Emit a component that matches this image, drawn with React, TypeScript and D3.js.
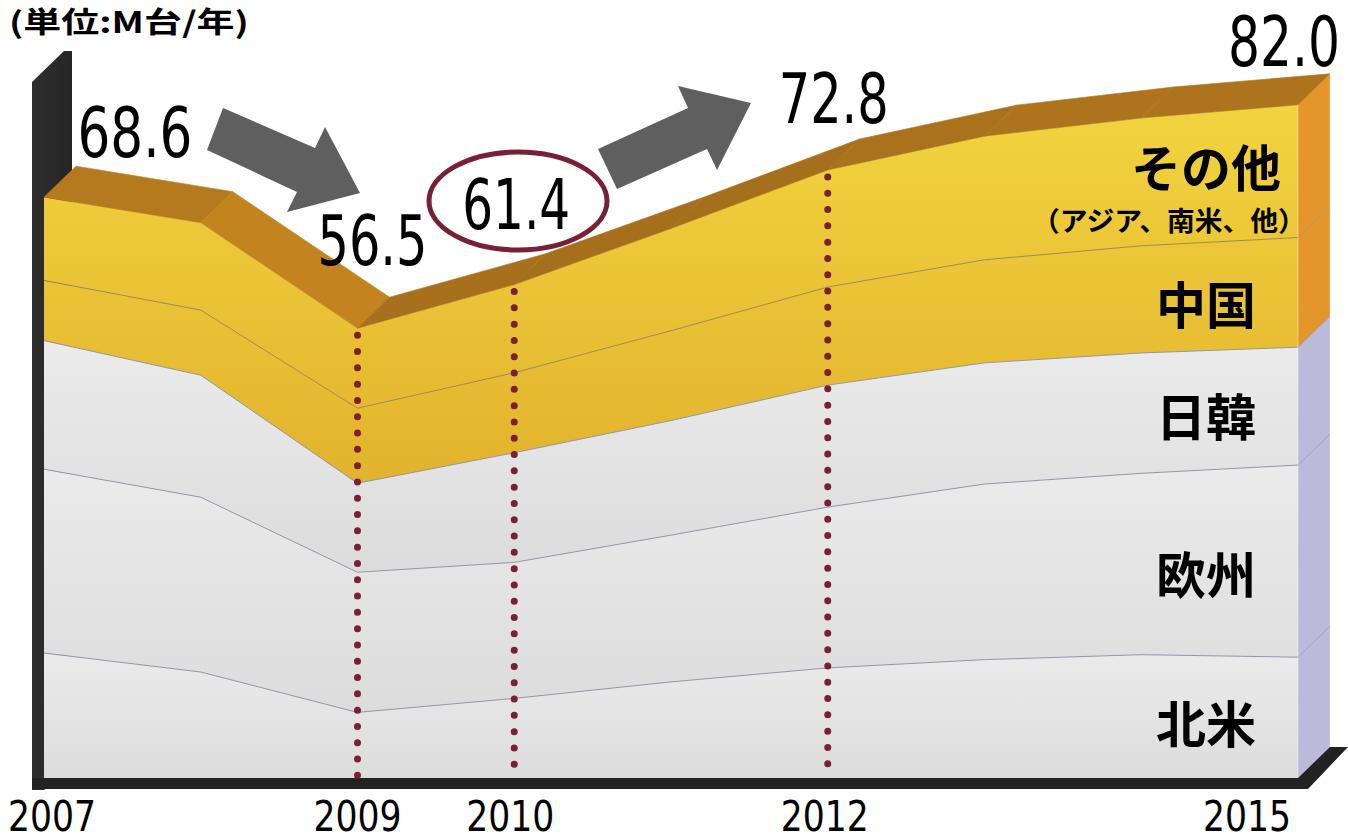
import React, { useLayoutEffect, useRef, useState } from 'react';
import * as d3 from 'd3';

// ---- data (M units / year) ----
const years = [2007, 2008, 2009, 2010, 2011, 2012, 2013, 2014, 2015];
const northAmerica = [15.4, 13.1, 8.2, 9.9, 11.9, 13.6, 14.6, 15.2, 14.9];
const europe = [22.3, 21.2, 17.0, 16.5, 17.8, 19.5, 21.3, 22.0, 23.3];
const japanKorea = [15.6, 14.8, 10.8, 13.3, 13.9, 14.8, 14.7, 14.6, 14.3];
const china = [7.3, 7.9, 9.1, 9.7, 10.9, 11.9, 12.5, 13.0, 13.3];
const others = [10.1, 10.6, 9.7, 10.7, 12.4, 14.2, 15.0, 15.5, 16.1];
const seriesKeys = ['北米', '欧州', '日韓', '中国', 'その他'];
const tickYears = [2007, 2009, 2010, 2012, 2015];
const markedYears = [2009, 2010, 2012];
const totalYears = [2007, 2009, 2010, 2012, 2015];
const totalLabels = ['68.6', '56.5', '61.4', '72.8', '82.0'];
const unitLabel = '(単位:M台/年)';
const othersSubLabel = '（アジア、南米、他）';

// ---- layout ----
const W = 1348, H = 840;
const X0 = 44, X1 = 1298, Y0 = 780, YTOP = 104;
const DX = 32, DY = -31;
const numFont = "'Liberation Sans Narrow', 'DejaVu Sans Condensed', 'Liberation Sans', sans-serif";
const jpFont = "'Noto Sans CJK JP', 'Noto Sans', sans-serif";

const table = years.map((y, i) => ({
  year: y,
  '北米': northAmerica[i],
  '欧州': europe[i],
  '日韓': japanKorea[i],
  '中国': china[i],
  'その他': others[i],
}));

const x = d3.scaleLinear().domain([2007, 2015]).range([X0, X1]);
const y = d3.scaleLinear().domain([0, 82]).range([Y0, YTOP]);

const stack = d3.stack<any>().keys(seriesKeys);
const layers = stack(table);

const isYellow = (k: string) => k === '中国' || k === 'その他';

// label layout (offsets relative to scales)
const totalLabelOffsets = [
  { dx: 91, dy: -40, w: 115 },
  { dx: 15, dy: -63, w: 110 },
  { dx: 2, dy: -56, w: 108 },
  { dx: 6, dy: -47, w: 110 },
  { dx: -14, dy: -39, w: 112 },
];
const seriesLabelBaselines: Record<string, number> = {
  '北米': 743, '欧州': 594, '日韓': 436, '中国': 324, 'その他': 187,
};
const tickLabelShift: Record<number, number> = { 2007: 8, 2009: 0, 2010: -4, 2012: -3, 2015: -51 };

function FitText(props: any) {
  const { x: px, y: py, width, children, ...rest } = props;
  const ref = useRef<SVGTextElement>(null);
  const [sx, setSx] = useState(1);
  useLayoutEffect(() => {
    if (ref.current) {
      const len = ref.current.getComputedTextLength();
      if (len > 0) setSx(width / len);
    }
  }, [width, children]);
  return (
    <text ref={ref} transform={`translate(${px},${py}) scale(${sx},1)`} x={0} y={0} {...rest}>
      {children}
    </text>
  );
}

export default function App() {
  const area = d3.area<any>()
    .x((d) => x(d.data.year))
    .y0((d) => y(d[0]))
    .y1((d) => y(d[1]))
    .curve(d3.curveLinear);
  const line = d3.line<any>()
    .x((d) => x(d.data.year))
    .y((d) => y(d[1]))
    .curve(d3.curveLinear);

  const top = layers[layers.length - 1];
  const topPts = top.map((d) => [x(d.data.year), y(d[1])] as [number, number]);

  // top band segments
  const bandColor = d3.interpolateRgb('#A56E1C', '#C4841F');
  const bandSegs = topPts.slice(0, -1).map((p, i) => {
    const q = topPts[i + 1];
    const slope = (q[1] - p[1]) / (q[0] - p[0]);
    const t = Math.max(0, Math.min(1, (slope + 0.4) / 1.1));
    const d = `M${p[0]},${p[1]}L${q[0]},${q[1]}L${q[0] + DX},${q[1] + DY}L${p[0] + DX},${p[1] + DY}Z`;
    return { d, fill: bandColor(t) };
  });

  // right side faces
  const last = table.length - 1;
  const sideFaces = layers.map((L) => {
    const k = L.key;
    const yb = y(L[last][0]);
    const yt = y(L[last][1]);
    const xf = X1, xb = X1 + DX;
    return {
      k,
      d: `M${xf},${yb}L${xf},${yt}L${xb},${yt + DY}L${xb},${yb + DY}Z`,
      line: `M${xf},${yt}L${xb},${yt + DY}`,
      fill: isYellow(k) ? '#E4962A' : '#BCB9DB',
    };
  });

  const yearIndex = (yr: number) => years.indexOf(yr);

  return (
    <svg width={W} height={H} style={{ position: 'absolute', left: 0, top: 0, background: '#fff' }}
      xmlns="http://www.w3.org/2000/svg">
      <defs>
        <linearGradient id="gYelAll" gradientUnits="userSpaceOnUse" x1="0" y1="100" x2="0" y2="490">
          <stop offset="0" stopColor="#F2D43F" />
          <stop offset="1" stopColor="#E2B22C" />
        </linearGradient>
        <linearGradient id="gGrey" x1="0" y1="0" x2="0" y2="1">
          <stop offset="0" stopColor="#EBEBEC" />
          <stop offset="1" stopColor="#DCDCDD" />
        </linearGradient>
        <linearGradient id="gWall" x1="0" y1="0" x2="1" y2="0">
          <stop offset="0" stopColor="#2E2E2E" />
          <stop offset="1" stopColor="#262626" />
        </linearGradient>
      </defs>

      {/* left wall */}
      <path d={`M32,82L64,51L72,51L72,770L44,790L32,790Z`} fill="url(#gWall)" />

      {/* right side faces */}
      {sideFaces.map((s) => (
        <path key={'sf' + s.k} d={s.d} fill={s.fill} />
      ))}
      {sideFaces.slice(0, -1).map((s) => (
        <path key={'sl' + s.k} d={s.line} stroke="#8E8C9E" strokeWidth={1} fill="none" opacity={0.7} />
      ))}
      <line x1={X1 + DX} x2={X1 + DX} y1={y(0) + DY} y2={topPts[last][1] + DY} stroke="#fff" strokeOpacity={0.3} />

      {/* front areas */}
      {layers.map((L) => (
        <path key={'a' + L.key} d={area(L) || ''}
          fill={isYellow(L.key) ? 'url(#gYelAll)' : 'url(#gGrey)'} />
      ))}
      {/* boundary lines */}
      {layers.slice(0, -1).map((L) => (
        <path key={'l' + L.key} d={line(L) || ''} fill="none"
          stroke={isYellow(L.key) ? '#9C8A55' : '#9495A6'} strokeWidth={1} />
      ))}
      <line x1={X1} x2={X1} y1={y(0)} y2={topPts[last][1]} stroke="#ffffff" strokeOpacity={0.4} />

      {/* top band */}
      {bandSegs.map((s, i) => (
        <path key={'b' + i} d={s.d} fill={s.fill} stroke={s.fill} strokeWidth={0.6} />
      ))}

      {/* floor */}
      <path d={`M32,778L${X1},778L${X1 + DX},${778 + DY}L${W},${778 + DY}L${X1 + 10},789L32,789Z`} fill="#222" />

      {/* dotted year markers */}
      {markedYears.map((yr) => {
        const i = yearIndex(yr);
        const yt = y(top[i][1]);
        return (
          <line key={'dm' + yr} x1={x(yr)} x2={x(yr)} y1={yt + 7} y2={778}
            stroke="#7A1F36" strokeWidth={7} strokeLinecap="round" strokeDasharray="0 16.3" />
        );
      })}

      {/* series labels */}
      {seriesKeys.map((k) => (
        <text key={'sl' + k} x={1206} y={seriesLabelBaselines[k]} textAnchor="middle"
          fontFamily={jpFont} fontWeight={700} fontSize={50} fill="#000">{k}</text>
      ))}
      <FitText x={1032} y={231} width={274} fontFamily={jpFont} fontWeight={700} fontSize={27}
        fill="#000">{othersSubLabel}</FitText>

      {/* arrows */}
      <path d="M223,108L315,148L325,127L360,193L287,212L297,192L207,150Z" fill="#5F5F5F" />
      <path d="M598,149L688,108L678,86L751,103L717,170L707,149L617,189Z" fill="#5F5F5F" />

      {/* highlight ellipse */}
      <ellipse cx={518} cy={201} rx={89} ry={49} fill="none" stroke="#7A2036" strokeWidth={5} />

      {/* total labels */}
      {totalYears.map((yr, j) => {
        const i = yearIndex(yr);
        const o = totalLabelOffsets[j];
        const cx = x(yr) + o.dx;
        const by = y(top[i][1]) + o.dy;
        return (
          <FitText key={'t' + yr} x={cx - o.w / 2} y={by} width={o.w} fontFamily={numFont}
            fontSize={70} fill="#000">{totalLabels[j]}</FitText>
        );
      })}

      {/* x tick labels */}
      {tickYears.map((yr) => {
        const cx = x(yr) + tickLabelShift[yr];
        return (
          <FitText key={'x' + yr} x={cx - 44} y={831} width={88} fontFamily={numFont} fontSize={42}
            fill="#000">{String(yr)}</FitText>
        );
      })}

      {/* unit */}
      <FitText x={9} y={33} width={240} fontFamily={jpFont} fontWeight={700} fontSize={29}
        fill="#000">{unitLabel}</FitText>
    </svg>
  );
}
